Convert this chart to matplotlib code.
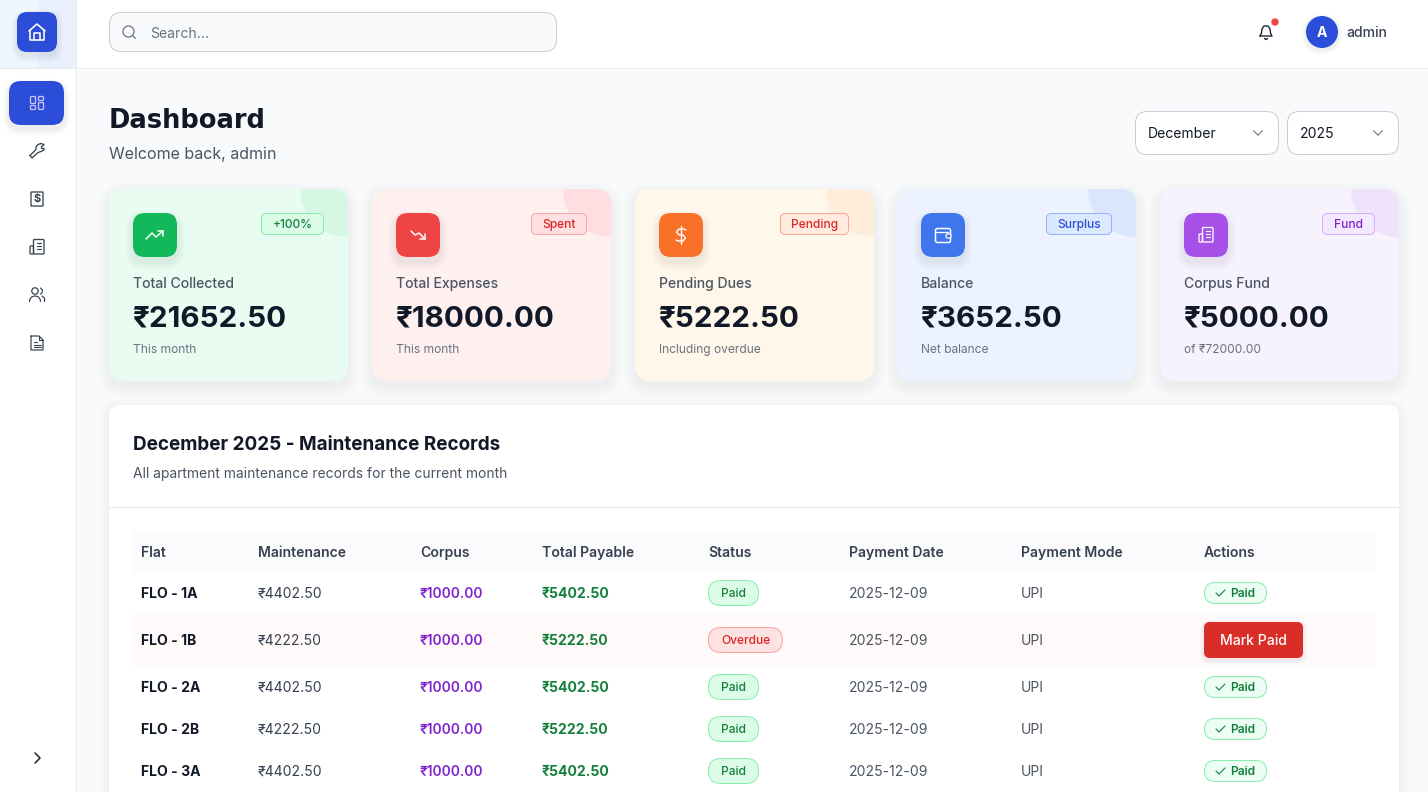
import matplotlib
matplotlib.use("Agg")
import matplotlib.pyplot as plt
from matplotlib.patches import FancyBboxPatch, Circle, Rectangle
import numpy as np

plt.rcParams['font.family'] = ['Inter', 'DejaVu Sans']

# card data
card_labels = ["Total Collected", "Total Expenses", "Pending Dues", "Balance", "Corpus Fund"]
card_values = ["₹21652.50", "₹18000.00", "₹5222.50", "₹3652.50", "₹5000.00"]
card_notes = ["This month", "This month", "Including overdue", "Net balance", "of ₹72000.00"]
card_badges = ["+100%", "Spent", "Pending", "Surplus", "Fund"]

# table data
columns = ["Flat", "Maintenance", "Corpus", "Total Payable", "Status", "Payment Date", "Payment Mode", "Actions"]
flats = ["FLO - 1A", "FLO - 1B", "FLO - 2A", "FLO - 2B", "FLO - 3A"]
maintenance = ["₹4402.50", "₹4222.50", "₹4402.50", "₹4222.50", "₹4402.50"]
corpus = ["₹1000.00", "₹1000.00", "₹1000.00", "₹1000.00", "₹1000.00"]
payable = ["₹5402.50", "₹5222.50", "₹5402.50", "₹5222.50", "₹5402.50"]
status = ["Paid", "Overdue", "Paid", "Paid", "Paid"]
pay_dates = ["2025-12-09", "2025-12-09", "2025-12-09", "2025-12-09", "2025-12-09"]
pay_modes = ["UPI", "UPI", "UPI", "UPI", "UPI"]

BLUE = "#2b4dd8"
INK = "#111827"

fig = plt.figure(figsize=(14.28, 7.92), dpi=100, facecolor="#f9fafb")
ax = fig.add_axes([0, 0, 1, 1])
ax.set_xlim(0, 1428)
ax.set_ylim(792, 0)
ax.axis("off")


def box(x0, y0, x1, y1, r, fc, ec="none", lw=1, z=2):
    p = FancyBboxPatch((x0, y0), x1 - x0, y1 - y0, boxstyle="round,pad=0,rounding_size=%g" % r,
                       fc=fc, ec=ec, lw=lw * 0.72, zorder=z)
    ax.add_patch(p)
    return p


def shadow(x0, y0, x1, y1, r, dy=4, spread=8, alpha=0.012, z=1.5):
    for k in range(spread, 0, -1):
        box(x0 - k, y0 + dy - k, x1 + k, y1 + dy + k, r + k, (0, 0, 0, alpha), z=z)


def txt(x, cy, s, px, color=INK, weight="normal", ha="left", z=6, **kw):
    # cy is the middle of the capital letters
    return ax.text(x, cy + 0.364 * px, s, fontsize=px * 0.72, color=color, fontweight=weight,
                   ha=ha, va="baseline", zorder=z, **kw)


def line(xs, ys, color, lw=1.3, z=7):
    ax.plot(xs, ys, color=color, lw=lw * 0.72, solid_capstyle="round", solid_joinstyle="round", zorder=z)


def rect_icon(x0, y0, x1, y1, r, color, lw=1.3):
    box(x0, y0, x1, y1, r, "none", ec=color, lw=lw, z=7)


def icon_home(cx, cy, c):
    line([cx - 8, cx, cx + 8], [cy - 1, cy - 8, cy - 1], c, 1.6)
    line([cx - 7, cx - 7, cx + 7, cx + 7], [cy - 2, cy + 8, cy + 8, cy - 2], c, 1.6)
    line([cx - 3, cx - 3, cx + 3, cx + 3], [cy + 8, cy + 1, cy + 1, cy + 8], c, 1.6)


def icon_grid(cx, cy, c):
    rect_icon(cx - 6.5, cy - 6.5, cx - 1.5, cy + 0.5, 1, c)
    rect_icon(cx + 1.5, cy - 6.5, cx + 6.5, cy - 2.5, 1, c)
    rect_icon(cx + 1.5, cy - 0.5, cx + 6.5, cy + 6.5, 1, c)
    rect_icon(cx - 6.5, cy + 2.5, cx - 1.5, cy + 6.5, 1, c)


def icon_wrench(cx, cy, c):
    # outline of the spanner, head top right
    xs = [-7, -1, -1, 1, 4, 7, 4.5, 4.5, 7, 7, 4, 1, -5, -7]
    ys = [4.5, -1.5, -4, -6.5, -7.5, -6.5, -4, -2.5, -2.5, -1, 0.5, 1.5, 7, 4.5]
    line(cx + np.array(xs), cy + np.array(ys), c, 1.3)


def icon_receipt(cx, cy, c):
    rect_icon(cx - 6, cy - 7, cx + 6, cy + 7, 0.5, c)
    ax.text(cx, cy, "$", fontsize=8, fontweight="bold", color=c, ha="center", va="center", zorder=8)


def icon_building(cx, cy, c):
    rect_icon(cx - 3.5, cy - 7.5, cx + 7, cy + 7, 1, c)
    rect_icon(cx - 7, cy - 1, cx - 3.5, cy + 7, 1, c)
    for dy in [-4, -1, 2]:
        line([cx - 0.5, cx + 4], [cy + dy, cy + dy], c, 1.2)


def icon_users(cx, cy, c):
    ax.add_patch(Circle((cx - 2, cy - 4), 3.2, fc="none", ec=c, lw=0.9, zorder=7))
    t = np.linspace(np.pi, 2 * np.pi, 20)
    line(cx - 2 + 5.5 * np.cos(t), cy + 6.5 + 5.5 * np.sin(t), c, 1.2)
    line([cx + 3.5, cx + 5.5, cx + 5, cx + 3.5], [cy - 7, cy - 5, cy - 2, cy - 1], c, 1.2)
    line([cx + 5, cx + 7.5, cx + 7.5], [cy + 1, cy + 3, cy + 6.5], c, 1.2)


def icon_doc(cx, cy, c):
    line([cx - 6, cx + 2, cx + 6, cx + 6, cx - 6, cx - 6], [cy - 7, cy - 7, cy - 3, cy + 7, cy + 7, cy - 7], c, 1.2)
    line([cx + 2, cx + 2, cx + 6], [cy - 7, cy - 3, cy - 3], c, 1.1)
    for dy, hw in [(-1, 1.5), (1.5, 3.5), (4, 3.5)]:
        line([cx - 3.5, cx - 3.5 + 2 * hw], [cy + dy, cy + dy], c, 1.1)


def icon_up(cx, cy, c):
    line([cx - 9, cx - 3, cx + 1, cx + 8], [cy + 4, cy - 2, cy + 2, cy - 4], c, 1.5)
    line([cx + 3, cx + 8, cx + 8], [cy - 4, cy - 4, cy + 1], c, 1.5)


def icon_down(cx, cy, c):
    line([cx - 7, cx - 3, cx + 1, cx + 7], [cy - 4, cy, cy - 2, cy + 4], c, 1.5)
    line([cx + 2, cx + 7, cx + 7], [cy + 4, cy + 4, cy - 1], c, 1.5)


def icon_dollar(cx, cy, c):
    line([cx, cx], [cy - 9, cy + 9], c, 1.4)
    line([cx + 5, cx + 2.5, cx - 2, cx - 4.5, cx - 2, cx + 2, cx + 4.5, cx + 2, cx - 2.5, cx - 5],
         [cy - 5, cy - 6, cy - 6, cy - 3, cy, cy, cy + 3, cy + 6, cy + 6, cy + 5], c, 1.4)


def icon_wallet(cx, cy, c):
    rect_icon(cx - 7.5, cy - 6.5, cx + 7.5, cy + 7.5, 2, c, 1.5)
    line([cx - 7, cx + 5], [cy - 3, cy - 3], c, 1.3)
    box(cx + 3, cy - 1, cx + 8, cy + 3, 1.5, "#3f76ee", ec=c, lw=1.2, z=8)


def chevron_down(cx, cy, c, s=4.5):
    line([cx - s, cx, cx + s], [cy - s / 2, cy + s / 2, cy - s / 2], c, 1.1)


# main page: sidebar and header
ax.add_patch(Rectangle((0, 0), 76, 792, fc="white", ec="none", zorder=3))
ax.add_patch(Rectangle((76, 0), 1, 792, fc="#e9ebef", ec="none", zorder=3))
ax.add_patch(Rectangle((77, 0), 1351, 68, fc="white", ec="none", zorder=3))
ax.add_patch(Rectangle((0, 68), 1428, 1, fc="#e9ebef", ec="none", zorder=4))
ax.imshow([[0, 1]], extent=(0, 76, 68, 0), aspect="auto", zorder=3.5,
          cmap=matplotlib.colors.LinearSegmentedColormap.from_list("hdr", ["#f0f6fe", "#e9effd"]))
ax.set_xlim(0, 1428)
ax.set_ylim(792, 0)

# logo and nav
shadow(17, 12, 57, 52, 10, dy=4, spread=6, alpha=0.012, z=4)
box(17, 12, 57, 52, 10, BLUE, z=5)
icon_home(37, 32, "white")
shadow(9, 81, 64, 125, 12, dy=4, spread=6, alpha=0.012, z=4)
box(9, 81, 64, 125, 12, BLUE, z=5)
icon_grid(37, 103, "#c9c3fb")
icon_wrench(37, 151, "#374151")
icon_receipt(37, 199, "#374151")
icon_building(37, 247, "#374151")
icon_users(37, 295, "#374151")
icon_doc(37, 343, "#374151")
line([35, 40, 35], [753, 758, 763], "#1f2937", 1.6)

# search box
box(109.5, 12.5, 556.5, 51.5, 12, "#f9fafb", ec="#c9cdd4", lw=1, z=5)
ax.add_patch(Circle((128.5, 31.5), 5.5, fc="none", ec="#6b7280", lw=0.9, zorder=6))
line([132.5, 135.5], [35.5, 38.5], "#6b7280", 1.2)
txt(150, 32.5, "Search...", 14, "#6b7280")

# bell and user
line([1260, 1261.5, 1262, 1264, 1268, 1270, 1270.5, 1272, 1260],
     [36, 33, 29, 26, 26, 29, 33, 36, 36], "#111827", 1.3)
line([1264.5, 1266, 1267.5], [38.5, 39.5, 38.5], "#111827", 1.3)
ax.add_patch(Circle((1275, 22), 3.7, fc="#ef4444", ec="none", zorder=8))
shadow(1306, 16, 1338, 48, 16, dy=2, spread=4, alpha=0.015, z=4)
ax.add_patch(Circle((1322, 32), 16, fc=BLUE, ec="none", zorder=5))
txt(1322, 32, "A", 14, "white", "bold", ha="center")
txt(1346, 32, "admin", 14, "#374151", "medium")

# page title
txt(109, 119, "Dashboard", 25.8, INK, "bold", family=["DejaVu Sans"])
txt(109, 153, "Welcome back, admin", 16, "#4b5563")

# month and year select
box(1135.5, 111.5, 1278.5, 154.5, 12, "white", ec="#c9cdd4", lw=1, z=5)
box(1287.5, 111.5, 1398.5, 154.5, 12, "white", ec="#c9cdd4", lw=1, z=5)
txt(1148, 133, "December", 14, "#111827")
txt(1300, 133, "2025", 14, "#111827")
chevron_down(1258, 133, "#6b7280")
chevron_down(1378, 133, "#6b7280")

# summary cards
card_x = [109, 372, 635, 897, 1160]
card_w = [239, 239, 239, 239, 239]
card_fc = ["#e9fcf2", "#fff0f0", "#fff7e9", "#ecf3fe", "#f6f2fe"]
card_blob = ["#d5f7e4", "#ffdde0", "#ffeddb", "#d9e6fc", "#efe3fb"]
icon_fc = ["#12b85a", "#ef4444", "#f97028", "#3f76ee", "#a650e8"]
badge_x = [(261, 324), (531, 587), (780, 849), (1046, 1112), (1322, 1375)]
badge_fc = ["#dbfbe7", "#ffe0e2", "#ffebe0", "#dbe8fd", "#f3e8ff"]
badge_ec = ["#86efac", "#fca5a5", "#fda48c", "#93b4f8", "#d0aef5"]
badge_tc = ["#15803d", "#dc2626", "#dc2626", "#2b4dd8", "#7e22ce"]
icon_funcs = [icon_up, icon_down, icon_dollar, icon_wallet, None]

for i in range(5):
    x0 = card_x[i]
    x1 = x0 + card_w[i]
    shadow(x0, 189, x1, 381, 16, dy=5, spread=12, alpha=0.0035)
    card = box(x0, 189, x1, 381, 16, card_fc[i], z=2)
    blob = Circle((x1, 189), 48, fc=card_blob[i], ec="none", zorder=2.5)
    ax.add_patch(blob)
    blob.set_clip_path(card)
    shadow(x0 + 24, 213, x0 + 68, 257, 12, dy=5, spread=8, alpha=0.007, z=3)
    box(x0 + 24, 213, x0 + 68, 257, 12, icon_fc[i], z=4)
    cx = x0 + 46
    if icon_funcs[i] is not None:
        icon_funcs[i](cx, 235, "white")
    else:
        icon_building(cx, 235, "white")
    bx0, bx1 = badge_x[i]
    box(bx0 + 0.5, 213.5, bx1 - 0.5, 234.5, 5, badge_fc[i], ec=badge_ec[i], lw=1, z=4)
    txt((bx0 + bx1) / 2, 224, card_badges[i], 12, badge_tc[i], "medium", ha="center")
    txt(x0 + 24, 283, card_labels[i], 14, "#4b5563", "medium")
    txt(x0 + 24, 315.5, card_values[i], 29.6, INK, "bold")
    txt(x0 + 24, 349, card_notes[i], 12, "#6b7280")

# records table panel
shadow(109, 405, 1399, 830, 12, dy=3, spread=10, alpha=0.002)
box(109, 405, 1399, 830, 12, "white", z=2)
ax.add_patch(Rectangle((109, 507), 1290, 1, fc="#e5e7eb", ec="none", zorder=3))
txt(133, 443, "December 2025 - Maintenance Records", 18.9, INK, "bold")
txt(133, 473, "All apartment maintenance records for the current month", 13.85, "#4b5563")

col_x = [141, 258, 420, 542, 708, 849, 1021, 1204]
row_y = [593, 640, 687, 729, 771]

ax.add_patch(Rectangle((133, 532), 1242, 40, fc="#fbfbfd", ec="none", zorder=3))
ax.add_patch(Rectangle((133, 614), 1242, 52, fc="#fff9f9", ec="none", zorder=3))
for xc, name in zip(col_x, columns):
    txt(xc, 552, name, 14, "#374151", "semibold")

for i, cy in enumerate(row_y):
    txt(col_x[0], cy, flats[i], 14, INK, "bold")
    txt(col_x[1], cy, maintenance[i], 14, "#374151")
    txt(col_x[2], cy, corpus[i], 13.8, "#7e22ce", "semibold")
    txt(col_x[3], cy, payable[i], 14, "#15803d", "bold")
    if status[i] == "Paid":
        box(708.5, cy - 12.5, 758.5, cy + 12.5, 12.5, "#dcfce7", ec="#86efac", lw=1, z=4)
        txt(733.5, cy, status[i], 12, "#15803d", "medium", ha="center")
        box(1204.5, cy - 10.5, 1266.5, cy + 10.5, 10.5, "#ecfdf3", ec="#86efac", lw=1, z=4)
        line([1216, 1219, 1225], [cy, cy + 3, cy - 3], "#15803d", 1.1)
        txt(1230, cy, "Paid", 12, "#15803d", "semibold")
    else:
        box(708.5, cy - 12.5, 782.5, cy + 12.5, 12.5, "#fee2e2", ec="#fca5a5", lw=1, z=4)
        txt(745.5, cy, status[i], 12, "#dc2626", "medium", ha="center")
        shadow(1204, cy - 18, 1303, cy + 18, 6, dy=2, spread=4, alpha=0.015, z=3.5)
        box(1204, cy - 18, 1303, cy + 18, 6, "#d92d27", z=4)
        txt(1253.5, cy, "Mark Paid", 14, "white", "medium", ha="center")
    txt(col_x[5], cy, pay_dates[i], 14, "#4b5563")
    txt(col_x[6], cy, pay_modes[i], 14, "#4b5563")

fig.savefig("out.png", dpi=100, facecolor=fig.get_facecolor())
